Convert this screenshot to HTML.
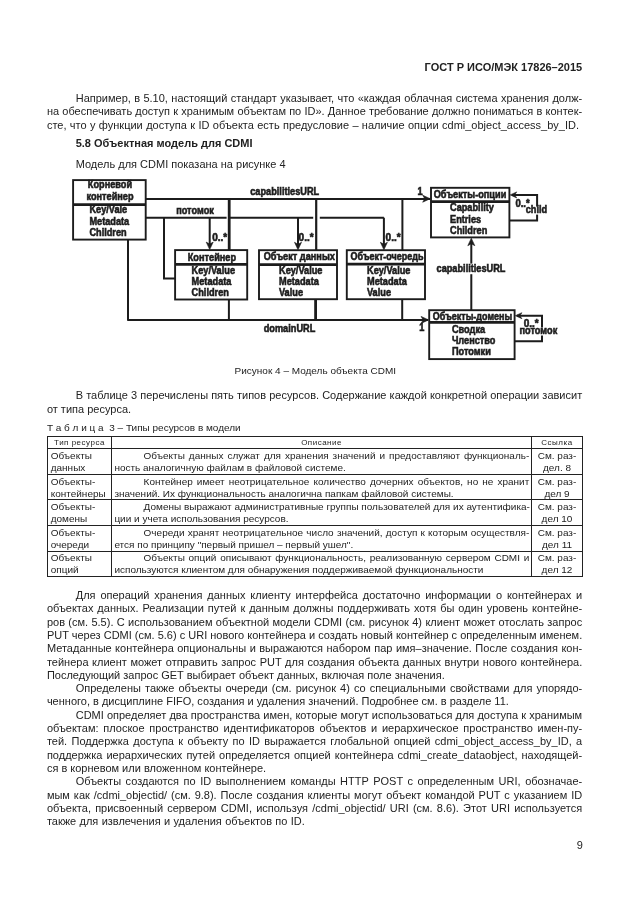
<!DOCTYPE html>
<html><head><meta charset="utf-8"><title>ГОСТ Р ИСО/МЭК 17826–2015</title>
<style>
html,body{margin:0;padding:0;background:#fff;}
body{width:630px;height:913px;position:relative;overflow:hidden;filter:grayscale(1);font-family:"Liberation Sans",sans-serif;color:#222;}
.t{position:absolute;white-space:nowrap;line-height:14px;transform:scaleY(0.92);}
.r{position:absolute;}
svg{position:absolute;left:0;top:0;filter:blur(0.45px);}
</style></head><body>
<svg width="630" height="913" viewBox="0 0 630 913" font-family="Liberation Sans, sans-serif" font-weight="bold" font-size="10px" fill="#1c1c1c">
<path d="M145.8 198.9L430 198.9" stroke="#1c1c1c" stroke-width="2.0" fill="none"/>
<path d="M145.8 217.7L226.6 217.7" stroke="#1c1c1c" stroke-width="2.0" fill="none"/>
<path d="M228 217.7L313.2 217.7" stroke="#1c1c1c" stroke-width="2.0" fill="none"/>
<path d="M319.8 217.7L383.9 217.7" stroke="#1c1c1c" stroke-width="2.0" fill="none"/>
<path d="M164 217.7L164 278.4L175 278.4" stroke="#1c1c1c" stroke-width="2.0" fill="none"/>
<path d="M209.7 217.7L209.7 246" stroke="#1c1c1c" stroke-width="2.0" fill="none"/>
<path d="M229.2 198.9L229.2 250" stroke="#1c1c1c" stroke-width="2.8" fill="none"/>
<path d="M298.0 217.7L298.0 246" stroke="#1c1c1c" stroke-width="2.0" fill="none"/>
<path d="M316.2 198.9L316.2 250" stroke="#1c1c1c" stroke-width="2.2" fill="none"/>
<path d="M383.9 217.7L383.9 246" stroke="#1c1c1c" stroke-width="2.0" fill="none"/>
<path d="M402.4 198.9L402.4 250" stroke="#1c1c1c" stroke-width="2.0" fill="none"/>
<path d="M128 239L128 320" stroke="#1c1c1c" stroke-width="2.0" fill="none"/>
<path d="M127.2 320L428 320" stroke="#1c1c1c" stroke-width="2.0" fill="none"/>
<path d="M228.9 299L228.9 320" stroke="#1c1c1c" stroke-width="2.0" fill="none"/>
<path d="M315.6 299L315.6 320" stroke="#1c1c1c" stroke-width="2.8" fill="none"/>
<path d="M402.2 299L402.2 320" stroke="#1c1c1c" stroke-width="2.0" fill="none"/>
<path d="M471.3 242L471.3 310" stroke="#1c1c1c" stroke-width="2.0" fill="none"/>
<path d="M512 194.9L537.1 194.9L537.1 220.5L509.5 220.5" stroke="#1c1c1c" stroke-width="2.0" fill="none"/>
<path d="M517 315.7L542 315.7L542 341.3L514.6 341.3" stroke="#1c1c1c" stroke-width="2.0" fill="none"/>
<path d="M422.7 195.2L430.2 198.7L422.7 202.2L424.7 198.7Z" fill="#1c1c1c" stroke="#1c1c1c" stroke-width="0.6" stroke-linejoin="miter"/>
<path d="M421.1 316.4L428.6 319.9L421.1 323.4L423.1 319.9Z" fill="#1c1c1c" stroke="#1c1c1c" stroke-width="0.6" stroke-linejoin="miter"/>
<path d="M206.2 242.1L209.7 249.6L213.2 242.1L209.7 244.1Z" fill="#1c1c1c" stroke="#1c1c1c" stroke-width="0.6" stroke-linejoin="miter"/>
<path d="M294.5 242.3L298.0 249.8L301.5 242.3L298.0 244.3Z" fill="#1c1c1c" stroke="#1c1c1c" stroke-width="0.6" stroke-linejoin="miter"/>
<path d="M380.4 242.3L383.9 249.8L387.4 242.3L383.9 244.3Z" fill="#1c1c1c" stroke="#1c1c1c" stroke-width="0.6" stroke-linejoin="miter"/>
<path d="M467.8 245.7L471.3 238.2L474.8 245.7L471.3 243.7Z" fill="#1c1c1c" stroke="#1c1c1c" stroke-width="0.6" stroke-linejoin="miter"/>
<path d="M516.7 191.9L510.2 194.9L516.7 197.9L514.7 194.9Z" fill="#1c1c1c" stroke="#1c1c1c" stroke-width="0.6" stroke-linejoin="miter"/>
<path d="M521.9 312.7L515.4 315.7L521.9 318.7L519.9 315.7Z" fill="#1c1c1c" stroke="#1c1c1c" stroke-width="0.6" stroke-linejoin="miter"/>
<rect x="73.1" y="180.1" width="72.6" height="59.5" fill="#fff" stroke="#1c1c1c" stroke-width="1.9"/>
<path d="M73.1 204.6L145.7 204.6" stroke="#1c1c1c" stroke-width="2.8" fill="none"/>
<rect x="175.1" y="250.1" width="72.1" height="49.4" fill="#fff" stroke="#1c1c1c" stroke-width="1.9"/>
<path d="M175.1 264.3L247.2 264.3" stroke="#1c1c1c" stroke-width="2.8" fill="none"/>
<rect x="259" y="250.2" width="78.0" height="49.0" fill="#fff" stroke="#1c1c1c" stroke-width="1.9"/>
<path d="M259 264.6L337 264.6" stroke="#1c1c1c" stroke-width="2.8" fill="none"/>
<rect x="346.8" y="250.2" width="78.2" height="49.0" fill="#fff" stroke="#1c1c1c" stroke-width="1.9"/>
<path d="M346.8 264.2L425 264.2" stroke="#1c1c1c" stroke-width="2.8" fill="none"/>
<rect x="431" y="187.8" width="78.4" height="49.6" fill="#fff" stroke="#1c1c1c" stroke-width="1.9"/>
<path d="M431 201.7L509.4 201.7" stroke="#1c1c1c" stroke-width="2.8" fill="none"/>
<rect x="429.2" y="310.2" width="85.4" height="48.9" fill="#fff" stroke="#1c1c1c" stroke-width="1.9"/>
<path d="M429.2 322.3L514.6 322.3" stroke="#1c1c1c" stroke-width="2.8" fill="none"/>
<text transform="translate(110 188.4) scale(0.92 1)" text-anchor="middle" stroke="#1c1c1c" stroke-width="0.55">Корневой</text>
<text transform="translate(110 199.8) scale(0.92 1)" text-anchor="middle" stroke="#1c1c1c" stroke-width="0.55">контейнер</text>
<text transform="translate(89.4 213.1) scale(0.92 1)" stroke="#1c1c1c" stroke-width="0.55">Key/Vale</text>
<text transform="translate(89.4 224.5) scale(0.92 1)" stroke="#1c1c1c" stroke-width="0.55">Metadata</text>
<text transform="translate(89.4 235.7) scale(0.92 1)" stroke="#1c1c1c" stroke-width="0.55">Children</text>
<text transform="translate(211.9 260.5) scale(0.92 1)" text-anchor="middle" stroke="#1c1c1c" stroke-width="0.55">Контейнер</text>
<text transform="translate(191.6 273.8) scale(0.92 1)" stroke="#1c1c1c" stroke-width="0.55">Key/Value</text>
<text transform="translate(191.6 285.2) scale(0.92 1)" stroke="#1c1c1c" stroke-width="0.55">Metadata</text>
<text transform="translate(191.6 296.3) scale(0.92 1)" stroke="#1c1c1c" stroke-width="0.55">Children</text>
<text transform="translate(299.3 260.4) scale(0.92 1)" text-anchor="middle" stroke="#1c1c1c" stroke-width="0.55">Объект данных</text>
<text transform="translate(279 274) scale(0.92 1)" stroke="#1c1c1c" stroke-width="0.55">Key/Value</text>
<text transform="translate(279 285.1) scale(0.92 1)" stroke="#1c1c1c" stroke-width="0.55">Metadata</text>
<text transform="translate(279 296.1) scale(0.92 1)" stroke="#1c1c1c" stroke-width="0.55">Value</text>
<text transform="translate(387 260.2) scale(0.9 1)" text-anchor="middle" stroke="#1c1c1c" stroke-width="0.55">Объект-очередь</text>
<text transform="translate(367 274) scale(0.92 1)" stroke="#1c1c1c" stroke-width="0.55">Key/Value</text>
<text transform="translate(367 285.1) scale(0.92 1)" stroke="#1c1c1c" stroke-width="0.55">Metadata</text>
<text transform="translate(367 296.1) scale(0.92 1)" stroke="#1c1c1c" stroke-width="0.55">Value</text>
<text transform="translate(470 198.3) scale(0.92 1)" text-anchor="middle" stroke="#1c1c1c" stroke-width="0.55">Объекты-опции</text>
<text transform="translate(450 211.3) scale(0.92 1)" stroke="#1c1c1c" stroke-width="0.55">Capability</text>
<text transform="translate(450 222.8) scale(0.92 1)" stroke="#1c1c1c" stroke-width="0.55">Entries</text>
<text transform="translate(450 233.9) scale(0.92 1)" stroke="#1c1c1c" stroke-width="0.55">Children</text>
<text transform="translate(472.5 319.6) scale(0.9 1)" text-anchor="middle" stroke="#1c1c1c" stroke-width="0.55">Объекты-домены</text>
<text transform="translate(451.9 333) scale(0.92 1)" stroke="#1c1c1c" stroke-width="0.55">Сводка</text>
<text transform="translate(451.9 343.9) scale(0.92 1)" stroke="#1c1c1c" stroke-width="0.55">Членство</text>
<text transform="translate(451.9 355) scale(0.92 1)" stroke="#1c1c1c" stroke-width="0.55">Потомки</text>
<text transform="translate(284.7 194.6) scale(0.92 1)" text-anchor="middle" stroke="#1c1c1c" stroke-width="0.55">capabilitiesURL</text>
<text transform="translate(195 214.4) scale(0.92 1)" text-anchor="middle" stroke="#1c1c1c" stroke-width="0.55">потомок</text>
<text transform="translate(212.2 240.8) scale(1 1)" stroke="#1c1c1c" stroke-width="0.55">0..*</text>
<text transform="translate(298.6 241.2) scale(1 1)" stroke="#1c1c1c" stroke-width="0.55">0..*</text>
<text transform="translate(385.6 241.2) scale(1 1)" stroke="#1c1c1c" stroke-width="0.55">0..*</text>
<text transform="translate(289.5 332) scale(0.92 1)" text-anchor="middle" stroke="#1c1c1c" stroke-width="0.55">domainURL</text>
<text transform="translate(417.4 195.1) scale(0.92 1)" stroke="#1c1c1c" stroke-width="0.55">1</text>
<text transform="translate(419.3 331) scale(0.92 1)" stroke="#1c1c1c" stroke-width="0.55">1</text>
<rect x="436" y="263.6" width="70" height="10.6" fill="#fff"/>
<text transform="translate(471 272) scale(0.92 1)" text-anchor="middle" stroke="#1c1c1c" stroke-width="0.55">capabilitiesURL</text>
<text transform="translate(515.4 207.3) scale(0.95 1)" stroke="#1c1c1c" stroke-width="0.55">0..*</text>
<rect x="534" y="206.6" width="8" height="8" fill="#fff"/>
<text transform="translate(536.4 213) scale(0.92 1)" text-anchor="middle" stroke="#1c1c1c" stroke-width="0.55">child</text>
<text transform="translate(523.7 326.6) scale(1 1)" stroke="#1c1c1c" stroke-width="0.55">0..*</text>
<rect x="538" y="327.5" width="8" height="8" fill="#fff"/>
<text transform="translate(538.4 334.3) scale(0.92 1)" text-anchor="middle" stroke="#1c1c1c" stroke-width="0.55">потомок</text>
</svg>
<div class="t" style="right:47.80px;top:60.00px;font-size:11.0px;transform-origin:0 11px;font-weight:bold;">ГОСТ Р ИСО/МЭК 17826–2015</div>
<div class="t" style="left:75.70px;top:91.00px;font-size:11.0px;transform-origin:0 11px;width:506.50px;text-align:justify;text-align-last:justify;">Например, в 5.10, настоящий стандарт указывает, что «каждая облачная система хранения долж-</div>
<div class="t" style="left:46.90px;top:104.00px;font-size:11.0px;transform-origin:0 11px;width:535.30px;text-align:justify;text-align-last:justify;">на обеспечивать доступ к хранимым объектам по ID». Данное требование должно пониматься в контек-</div>
<div class="t" style="left:46.90px;top:118.00px;font-size:11.0px;transform-origin:0 11px;width:532.10px;text-align:justify;text-align-last:justify;">сте, что у функции доступа к ID объекта есть предусловие – наличие опции cdmi_object_access_by_ID.</div>
<div class="t" style="left:75.70px;top:136.00px;font-size:11.0px;transform-origin:0 11px;font-weight:bold;">5.8 Объектная модель для CDMI</div>
<div class="t" style="left:75.70px;top:157.00px;font-size:11.0px;transform-origin:0 11px;">Модель для CDMI показана на рисунке 4</div>
<div class="t" style="left:165.30px;width:300px;text-align:center;top:364.00px;font-size:10.0px;transform-origin:0 10px;">Рисунок 4 – Модель объекта CDMI</div>
<div class="t" style="left:75.70px;top:388.00px;font-size:11.0px;transform-origin:0 11px;width:506.50px;text-align:justify;text-align-last:justify;">В таблице 3 перечислены пять типов ресурсов. Содержание каждой конкретной операции зависит</div>
<div class="t" style="left:46.90px;top:402.00px;font-size:11.0px;transform-origin:0 11px;">от типа ресурса.</div>
<div class="t" style="left:46.90px;top:421.00px;font-size:10.0px;transform-origin:0 10px;">Т а б л и ц а  3 – Типы ресурсов в модели</div>
<div class="r" style="left:47.10px;top:436.10px;width:535.70px;height:1.0px;background:#222"></div>
<div class="r" style="left:46.80px;top:447.70px;width:536.30px;height:1.6px;background:#222"></div>
<div class="r" style="left:47.10px;top:473.90px;width:535.70px;height:1.0px;background:#222"></div>
<div class="r" style="left:47.10px;top:499.30px;width:535.70px;height:1.0px;background:#222"></div>
<div class="r" style="left:47.10px;top:524.70px;width:535.70px;height:1.0px;background:#222"></div>
<div class="r" style="left:47.10px;top:550.50px;width:535.70px;height:1.0px;background:#222"></div>
<div class="r" style="left:47.10px;top:576.00px;width:535.70px;height:1.0px;background:#222"></div>
<div class="r" style="left:47.10px;top:436.10px;width:1.0px;height:140.90px;background:#222"></div>
<div class="r" style="left:110.90px;top:436.10px;width:1.0px;height:140.90px;background:#222"></div>
<div class="r" style="left:531.20px;top:436.10px;width:1.0px;height:140.90px;background:#222"></div>
<div class="r" style="left:581.80px;top:436.10px;width:1.0px;height:140.90px;background:#222"></div>
<div class="t" style="left:39.50px;width:80px;text-align:center;top:436.00px;font-size:8.0px;transform-origin:0 9px;letter-spacing:0.5px;">Тип ресурса</div>
<div class="t" style="left:281.55px;width:80px;text-align:center;top:436.00px;font-size:8.0px;transform-origin:0 9px;letter-spacing:0.5px;">Описание</div>
<div class="t" style="left:527.00px;width:60px;text-align:center;top:436.00px;font-size:8.0px;transform-origin:0 9px;letter-spacing:0.5px;">Ссылка</div>
<div class="t" style="left:50.70px;top:449.00px;font-size:10.0px;transform-origin:0 10px;">Объекты</div>
<div class="t" style="left:50.70px;top:461.00px;font-size:10.0px;transform-origin:0 10px;">данных</div>
<div class="t" style="left:143.60px;top:449.00px;font-size:10.0px;transform-origin:0 10px;width:385.70px;text-align:justify;text-align-last:justify;">Объекты данных служат для хранения значений и предоставляют функциональ-</div>
<div class="t" style="left:114.40px;top:461.00px;font-size:10.0px;transform-origin:0 10px;">ность аналогичную файлам в файловой системе.</div>
<div class="t" style="left:527.00px;width:60px;text-align:center;top:449.00px;font-size:10.0px;transform-origin:0 10px;">См. раз-</div>
<div class="t" style="left:527.00px;width:60px;text-align:center;top:461.00px;font-size:10.0px;transform-origin:0 10px;">дел. 8</div>
<div class="t" style="left:50.70px;top:475.00px;font-size:10.0px;transform-origin:0 10px;">Объекты-</div>
<div class="t" style="left:50.70px;top:487.00px;font-size:10.0px;transform-origin:0 10px;">контейнеры</div>
<div class="t" style="left:143.60px;top:475.00px;font-size:10.0px;transform-origin:0 10px;width:385.70px;text-align:justify;text-align-last:justify;">Контейнер имеет неотрицательное количество дочерних объектов, но не хранит</div>
<div class="t" style="left:114.40px;top:487.00px;font-size:10.0px;transform-origin:0 10px;">значений. Их функциональность аналогична папкам файловой системы.</div>
<div class="t" style="left:527.00px;width:60px;text-align:center;top:475.00px;font-size:10.0px;transform-origin:0 10px;">См. раз-</div>
<div class="t" style="left:527.00px;width:60px;text-align:center;top:487.00px;font-size:10.0px;transform-origin:0 10px;">дел 9</div>
<div class="t" style="left:50.70px;top:500.00px;font-size:10.0px;transform-origin:0 10px;">Объекты-</div>
<div class="t" style="left:50.70px;top:512.00px;font-size:10.0px;transform-origin:0 10px;">домены</div>
<div class="t" style="left:143.60px;top:500.00px;font-size:10.0px;transform-origin:0 10px;width:385.70px;text-align:justify;text-align-last:justify;">Домены выражают административные группы пользователей для их аутентифика-</div>
<div class="t" style="left:114.40px;top:512.00px;font-size:10.0px;transform-origin:0 10px;">ции и учета использования ресурсов.</div>
<div class="t" style="left:527.00px;width:60px;text-align:center;top:500.00px;font-size:10.0px;transform-origin:0 10px;">См. раз-</div>
<div class="t" style="left:527.00px;width:60px;text-align:center;top:512.00px;font-size:10.0px;transform-origin:0 10px;">дел 10</div>
<div class="t" style="left:50.70px;top:526.00px;font-size:10.0px;transform-origin:0 10px;">Объекты-</div>
<div class="t" style="left:50.70px;top:538.00px;font-size:10.0px;transform-origin:0 10px;">очереди</div>
<div class="t" style="left:143.60px;top:526.00px;font-size:10.0px;transform-origin:0 10px;width:385.70px;text-align:justify;text-align-last:justify;">Очереди хранят неотрицательное число значений, доступ к которым осуществля-</div>
<div class="t" style="left:114.40px;top:538.00px;font-size:10.0px;transform-origin:0 10px;">ется по принципу "первый пришел – первый ушел".</div>
<div class="t" style="left:527.00px;width:60px;text-align:center;top:526.00px;font-size:10.0px;transform-origin:0 10px;">См. раз-</div>
<div class="t" style="left:527.00px;width:60px;text-align:center;top:538.00px;font-size:10.0px;transform-origin:0 10px;">дел 11</div>
<div class="t" style="left:50.70px;top:551.00px;font-size:10.0px;transform-origin:0 10px;">Объекты</div>
<div class="t" style="left:50.70px;top:563.00px;font-size:10.0px;transform-origin:0 10px;">опций</div>
<div class="t" style="left:143.60px;top:551.00px;font-size:10.0px;transform-origin:0 10px;width:385.70px;text-align:justify;text-align-last:justify;">Объекты опций описывают функциональность, реализованную сервером CDMI и</div>
<div class="t" style="left:114.40px;top:563.00px;font-size:10.0px;transform-origin:0 10px;">используются клиентом для обнаружения поддерживаемой функциональности</div>
<div class="t" style="left:527.00px;width:60px;text-align:center;top:551.00px;font-size:10.0px;transform-origin:0 10px;">См. раз-</div>
<div class="t" style="left:527.00px;width:60px;text-align:center;top:563.00px;font-size:10.0px;transform-origin:0 10px;">дел 12</div>
<div class="t" style="left:75.70px;top:588.00px;font-size:11.0px;transform-origin:0 11px;width:506.50px;text-align:justify;text-align-last:justify;">Для операций хранения данных клиенту интерфейса достаточно информации о контейнерах и</div>
<div class="t" style="left:46.90px;top:601.00px;font-size:11.0px;transform-origin:0 11px;width:535.30px;text-align:justify;text-align-last:justify;">объектах данных. Реализации путей к данным должны поддерживать хотя бы один уровень контейне-</div>
<div class="t" style="left:46.90px;top:615.00px;font-size:11.0px;transform-origin:0 11px;width:535.30px;text-align:justify;text-align-last:justify;">ров (см. 5.5). С использованием объектной модели CDMI (см. рисунок 4) клиент может отослать запрос</div>
<div class="t" style="left:46.90px;top:628.00px;font-size:11.0px;transform-origin:0 11px;width:535.30px;text-align:justify;text-align-last:justify;">PUT через CDMI (см. 5.6) с URI нового контейнера и создать новый контейнер с определенным именем.</div>
<div class="t" style="left:46.90px;top:641.00px;font-size:11.0px;transform-origin:0 11px;width:535.30px;text-align:justify;text-align-last:justify;">Метаданные контейнера опциональны и выражаются набором пар имя–значение. После создания кон-</div>
<div class="t" style="left:46.90px;top:655.00px;font-size:11.0px;transform-origin:0 11px;width:535.30px;text-align:justify;text-align-last:justify;">тейнера клиент может отправить запрос PUT для создания объекта данных внутри нового контейнера.</div>
<div class="t" style="left:46.90px;top:668.00px;font-size:11.0px;transform-origin:0 11px;">Последующий запрос GET выбирает объект данных, включая поле значения.</div>
<div class="t" style="left:75.70px;top:681.00px;font-size:11.0px;transform-origin:0 11px;width:506.50px;text-align:justify;text-align-last:justify;">Определены также объекты очереди (см. рисунок 4) со специальными свойствами для упорядо-</div>
<div class="t" style="left:46.90px;top:694.00px;font-size:11.0px;transform-origin:0 11px;">ченного, в дисциплине FIFO, создания и удаления значений. Подробнее см. в разделе 11.</div>
<div class="t" style="left:75.70px;top:708.00px;font-size:11.0px;transform-origin:0 11px;width:506.50px;text-align:justify;text-align-last:justify;">CDMI определяет два пространства имен, которые могут использоваться для доступа к хранимым</div>
<div class="t" style="left:46.90px;top:721.00px;font-size:11.0px;transform-origin:0 11px;width:535.30px;text-align:justify;text-align-last:justify;">объектам: плоское пространство идентификаторов объектов и иерархическое пространство имен-пу-</div>
<div class="t" style="left:46.90px;top:734.00px;font-size:11.0px;transform-origin:0 11px;width:535.30px;text-align:justify;text-align-last:justify;">тей. Поддержка доступа к объекту по ID выражается глобальной опцией cdmi_object_access_by_ID, а</div>
<div class="t" style="left:46.90px;top:748.00px;font-size:11.0px;transform-origin:0 11px;width:535.30px;text-align:justify;text-align-last:justify;">поддержка иерархических путей определяется опцией контейнера cdmi_create_dataobject, находящей-</div>
<div class="t" style="left:46.90px;top:761.00px;font-size:11.0px;transform-origin:0 11px;">ся в корневом или вложенном контейнере.</div>
<div class="t" style="left:75.70px;top:774.00px;font-size:11.0px;transform-origin:0 11px;width:506.50px;text-align:justify;text-align-last:justify;">Объекты создаются по ID выполнением команды HTTP POST с определенным URI, обозначае-</div>
<div class="t" style="left:46.90px;top:788.00px;font-size:11.0px;transform-origin:0 11px;width:535.30px;text-align:justify;text-align-last:justify;">мым как /cdmi_objectid/ (см. 9.8). После создания клиенты могут объект командой PUT с указанием ID</div>
<div class="t" style="left:46.90px;top:801.00px;font-size:11.0px;transform-origin:0 11px;width:535.30px;text-align:justify;text-align-last:justify;">объекта, присвоенный сервером CDMI, используя /cdmi_objectid/ URI (см. 8.6). Этот URI используется</div>
<div class="t" style="left:46.90px;top:814.00px;font-size:11.0px;transform-origin:0 11px;width:257.90px;text-align:justify;text-align-last:justify;">также для извлечения и удаления объектов по ID.</div>
<div class="t" style="right:47.20px;top:838.00px;font-size:11px;transform-origin:0 11px;">9</div>
</body></html>
